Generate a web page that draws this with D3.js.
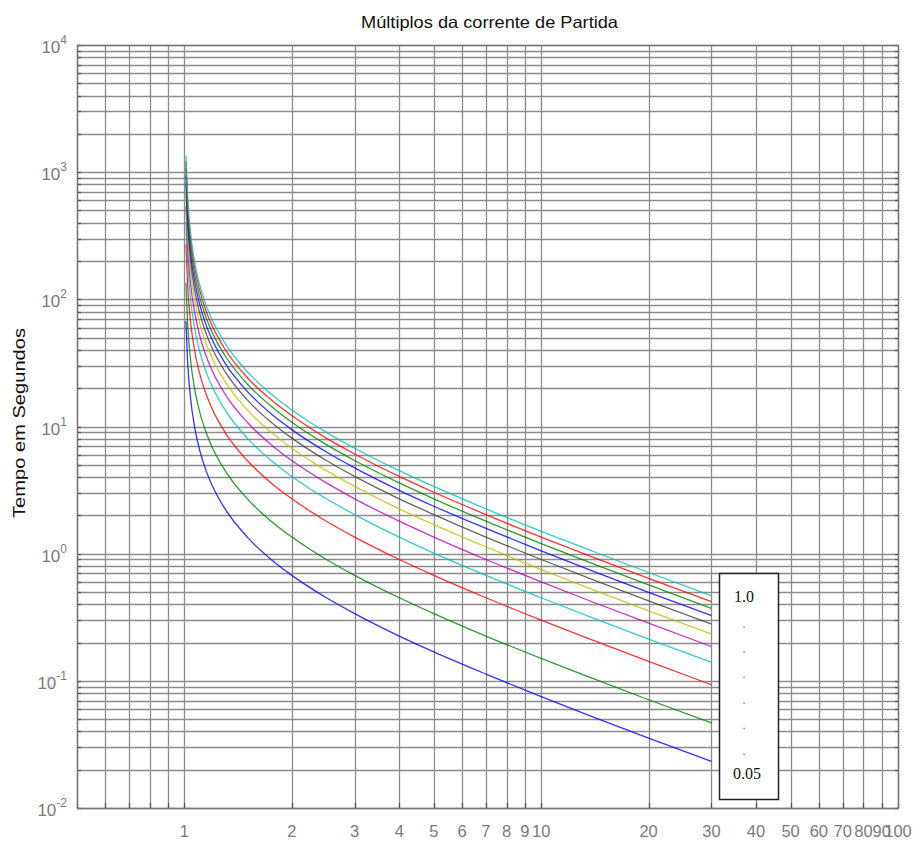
<!DOCTYPE html>
<html>
<head>
<meta charset="utf-8">
<script src="https://cdn.jsdelivr.net/npm/d3@7"></script>
<style>
  body { margin: 0; background: #fff; }
  svg { display: block; }
</style>
</head>
<body>
<svg id="chart" width="913" height="841"></svg>
<script>
// ---- data ----
const multiples = [1.01, 1.02, 1.04, 1.07, 1.1, 1.15, 1.2, 1.3, 1.5, 1.75, 2, 2.5, 3, 4, 5, 7, 10, 14, 20, 30];
const dialSettings = [0.05, 0.1, 0.2, 0.3, 0.4, 0.5, 0.6, 0.7, 0.8, 0.9, 1.0];
const curveColors = ["#0000ff", "#008000", "#ff0000", "#00bfbf", "#bf00bf", "#bfbf00", "#404040", "#0000ff", "#008000", "#ff0000", "#00bfbf"];
const t005 = [67.5, 33.8, 16.9, 9.64, 6.75, 4.5, 3.38, 2.25, 1.35, 0.9, 0.675, 0.45, 0.338, 0.225, 0.169, 0.113, 0.075, 0.0519, 0.0355, 0.0233];
const t010 = [135, 67.5, 33.8, 19.3, 13.5, 9, 6.75, 4.5, 2.7, 1.8, 1.35, 0.9, 0.675, 0.45, 0.338, 0.225, 0.15, 0.104, 0.071, 0.0466];
const t020 = [270, 135, 67.5, 38.6, 27, 18, 13.5, 9, 5.4, 3.6, 2.7, 1.8, 1.35, 0.9, 0.675, 0.45, 0.3, 0.208, 0.142, 0.0931];
const t030 = [405, 203, 101, 57.9, 40.5, 27, 20.3, 13.5, 8.1, 5.4, 4.05, 2.7, 2.03, 1.35, 1.01, 0.675, 0.45, 0.311, 0.213, 0.140];
const t040 = [540, 270, 135, 77.1, 54, 36, 27, 18, 10.8, 7.2, 5.4, 3.6, 2.7, 1.8, 1.35, 0.9, 0.6, 0.415, 0.284, 0.186];
const t050 = [675, 338, 169, 96.4, 67.5, 45, 33.8, 22.5, 13.5, 9, 6.75, 4.5, 3.38, 2.25, 1.69, 1.13, 0.75, 0.519, 0.355, 0.233];
const t060 = [810, 405, 203, 116, 81, 54, 40.5, 27, 16.2, 10.8, 8.1, 5.4, 4.05, 2.7, 2.03, 1.35, 0.9, 0.623, 0.426, 0.279];
const t070 = [945, 473, 236, 135, 94.5, 63, 47.3, 31.5, 18.9, 12.6, 9.45, 6.3, 4.73, 3.15, 2.36, 1.58, 1.05, 0.727, 0.497, 0.326];
const t080 = [1080, 540, 270, 154, 108, 72, 54, 36, 21.6, 14.4, 10.8, 7.2, 5.4, 3.6, 2.7, 1.8, 1.2, 0.831, 0.568, 0.372];
const t090 = [1215, 608, 304, 174, 122, 81, 60.8, 40.5, 24.3, 16.2, 12.2, 8.1, 6.08, 4.05, 3.04, 2.03, 1.35, 0.935, 0.639, 0.419];
const t100 = [1350, 675, 338, 193, 135, 90, 67.5, 45, 27, 18, 13.5, 9, 6.75, 4.5, 3.38, 2.25, 1.5, 1.04, 0.711, 0.466];
const seriesTimes = [t005, t010, t020, t030, t040, t050, t060, t070, t080, t090, t100];
const xTickLabels = [1, 2, 3, 4, 5, 6, 7, 8, 9, 10, 20, 30, 40, 50, 60, 70, 80, 90, 100];
const yDecades = [-2, -1, 0, 1, 2, 3, 4];
const legendTop = "1.0";
const legendBottom = "0.05";
const titleText = "Múltiplos da corrente de Partida";
const yLabelText = "Tempo em Segundos";

(function () {
// ---- layout ----
const pL = 77, pR = 898, pT = 45, pB = 808;
const svg = d3.select("#chart");
const x = d3.scaleLog().domain([0.5, 100]).range([pL, pR]);
const y = d3.scaleLog().domain([0.01, 10000]).range([pB, pT]);

// grid values
const xGrid = [];
[0.1, 1, 10].forEach(d => { for (let k = 1; k <= 9; k++) { const v = +(k * d).toPrecision(3); if (v >= 0.5 && v <= 100) xGrid.push(v); } });
xGrid.push(100);
const yGrid = [];
for (let e = -2; e < 4; e++) for (let k = 1; k <= 9; k++) yGrid.push(+(k * Math.pow(10, e)).toPrecision(3));
yGrid.push(10000);

const gridColor = "#8c8c8c";
const g = svg.append("g");
g.selectAll("line.gy").data(yGrid).enter().append("line")
  .attr("x1", pL).attr("x2", pR)
  .attr("y1", d => Math.round(y(d)) + 0.5).attr("y2", d => Math.round(y(d)) + 0.5)
  .attr("stroke", gridColor).attr("stroke-width", 1.3);
g.selectAll("line.gx").data(xGrid).enter().append("line")
  .attr("y1", pT).attr("y2", pB)
  .attr("x1", d => Math.round(x(d)) + 0.5).attr("x2", d => Math.round(x(d)) + 0.5)
  .attr("stroke", gridColor).attr("stroke-width", 1.3);

// small ticks inside
g.selectAll("line.tx").data(xGrid).enter().append("line")
  .attr("x1", d => Math.round(x(d)) + 0.5).attr("x2", d => Math.round(x(d)) + 0.5)
  .attr("y1", pB).attr("y2", pB - 5)
  .attr("stroke", "#555").attr("stroke-width", 1.3);
g.selectAll("line.ty").data(yGrid).enter().append("line")
  .attr("x1", pL).attr("x2", pL + 4)
  .attr("y1", d => Math.round(y(d)) + 0.5).attr("y2", d => Math.round(y(d)) + 0.5)
  .attr("stroke", "#555").attr("stroke-width", 1.3);
g.selectAll("line.ty2").data(yGrid).enter().append("line")
  .attr("x1", pR).attr("x2", pR - 3)
  .attr("y1", d => Math.round(y(d)) + 0.5).attr("y2", d => Math.round(y(d)) + 0.5)
  .attr("stroke", "#555").attr("stroke-width", 1.3);

// border
g.append("rect").attr("x", pL + 0.5).attr("y", pT + 0.5)
  .attr("width", pR - pL).attr("height", pB - pT)
  .attr("fill", "none").attr("stroke", "#777").attr("stroke-width", 1.4);

// curves
const line = d3.line()
  .x(d => x(d[0])).y(d => y(d[1]))
  .curve(d3.curveMonotoneX);
seriesTimes.forEach((ts, i) => {
  svg.append("path")
    .datum(multiples.map((m, j) => [m, ts[j]]))
    .attr("d", line)
    .attr("fill", "none")
    .attr("stroke", curveColors[i])
    .attr("stroke-opacity", 0.8)
    .attr("stroke-width", 1.3);
});

// x tick labels
svg.append("g").selectAll("text").data(xTickLabels).enter().append("text")
  .attr("x", d => x(d)).attr("y", 837)
  .attr("text-anchor", "middle")
  .attr("font-family", "Liberation Sans, Arial, sans-serif")
  .attr("font-size", 16.5)
  .attr("fill", "#7a7a7a")
  .text(d => d);

// y tick labels 10^n
const yl = svg.append("g").selectAll("text").data(yDecades).enter().append("text")
  .attr("y", d => y(Math.pow(10, d)) + 8)
  .attr("font-family", "Liberation Sans, Arial, sans-serif")
  .attr("font-size", 17)
  .attr("fill", "#7a7a7a");
yl.append("tspan").text("10");
yl.append("tspan").attr("dy", -9).attr("font-size", 12).text(d => d);
yl.each(function () {
  const w = this.getComputedTextLength();
  d3.select(this).attr("x", 67 - w);
});

// title
svg.append("text")
  .attr("x", 489.5).attr("y", 28)
  .attr("text-anchor", "middle")
  .attr("font-family", "Liberation Sans, Arial, sans-serif")
  .attr("font-size", 16.5)
  .attr("fill", "#111")
  .attr("textLength", 257).attr("lengthAdjust", "spacingAndGlyphs")
  .text(titleText);

// y axis label
svg.append("text")
  .attr("transform", "translate(25,423) rotate(-90)")
  .attr("text-anchor", "middle")
  .attr("font-family", "Liberation Sans, Arial, sans-serif")
  .attr("font-size", 16.5)
  .attr("fill", "#111")
  .attr("textLength", 190).attr("lengthAdjust", "spacingAndGlyphs")
  .text(yLabelText);

// legend box
const lg = svg.append("g");
lg.append("rect").attr("x", 719.5).attr("y", 573.5).attr("width", 59).attr("height", 226)
  .attr("fill", "#fff").attr("stroke", "#222").attr("stroke-width", 1.5);
lg.append("text").attr("x", 734).attr("y", 602)
  .attr("font-family", "Liberation Serif, Times New Roman, serif").attr("font-size", 16)
  .attr("fill", "#111").text(legendTop);
lg.append("text").attr("x", 733).attr("y", 779)
  .attr("font-family", "Liberation Serif, Times New Roman, serif").attr("font-size", 16)
  .attr("fill", "#111").text(legendBottom);
const dotYs = d3.range(6).map(i => 626 + i * 25.4);
lg.selectAll("text.dot").data(dotYs).enter().append("text")
  .attr("x", 744).attr("y", d => d + 1.5)
  .attr("text-anchor", "middle")
  .attr("font-family", "Liberation Serif, Times New Roman, serif").attr("font-size", 12)
  .attr("fill", "#667").text(".");
})();
</script>
</body>
</html>
